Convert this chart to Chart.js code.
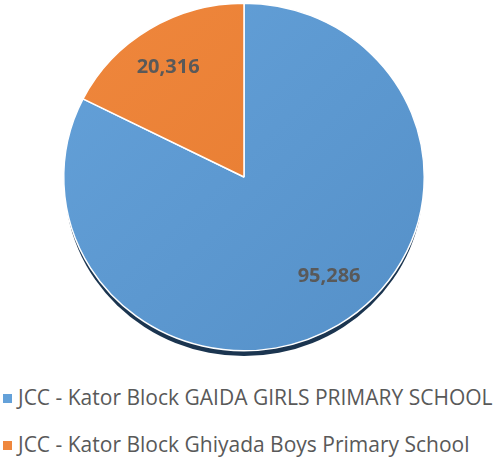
<!DOCTYPE html>
<html>
<head>
<meta charset="utf-8">
<script src="https://cdn.jsdelivr.net/npm/chart.js@4.4.1/dist/chart.umd.min.js"></script>
<style>
  html, body { margin: 0; padding: 0; background: #fff; }
  #wrap { position: relative; width: 498px; height: 459px; overflow: hidden; }
  #pie { position: absolute; left: 0; top: -6px; }
  .leg { position: absolute; left: 0; font-family: 'Open Sans', sans-serif; font-size: 21px; color: #595959; white-space: nowrap; }
  .leg .box { position: absolute; left: 3px; width: 9px; height: 9px; }
  .leg .txt { position: absolute; left: 18px; line-height: 26px; }
</style>
</head>
<body>
<div id="wrap">
  <canvas id="pie" width="498" height="372"></canvas>
  <div id="legend"></div>
</div>
<script>
// ——— DATA ———
const schools = [
    'JCC - Kator Block GAIDA GIRLS PRIMARY SCHOOL',
    'JCC - Kator Block Ghiyada Boys Primary School'
];
const totals = [95286, 20316];
const colorsLeft = ['#64a1d9', '#ef873d'];
const colorsRight = ['#5590c8', '#e5792d'];

// label placement along each slice (radius fraction, angle shift in degrees)
const labelRadius = [0.74, 0.76];
const labelShift = [-8, -2];

// the pie is drawn slightly squashed vertically
const squash = 0.964;

const ctx = document.getElementById('pie').getContext('2d');

function sliceGradient(chart, i) {
    const area = chart.chartArea;
    if (!area) return colorsLeft[i];
    const g = ctx.createLinearGradient(area.left, area.top, area.right, area.bottom);
    g.addColorStop(0, colorsLeft[i]);
    g.addColorStop(1, colorsRight[i]);
    return g;
}

// squash + dark rim under the pie
const rimShadow = {
    id: 'rimShadow',
    beforeDatasetsDraw(chart) {
        const arc = chart.getDatasetMeta(0).data[0];
        if (!arc) return;
        const c = chart.ctx;
        c.save();
        c.translate(0, arc.y);
        c.scale(1, squash);
        c.translate(0, -arc.y);
        c.save();
        c.filter = 'blur(0.6px)';
        c.fillStyle = '#1b3550';
        c.beginPath();
        c.arc(arc.x, arc.y + 6.5, arc.outerRadius - 1, 0, Math.PI * 2);
        c.fill();
        c.restore();
    },
    afterDatasetsDraw(chart) {
        chart.ctx.restore();
    }
};

// value labels inside the slices
const valueLabels = {
    id: 'valueLabels',
    afterDatasetsDraw(chart) {
        const c = chart.ctx;
        c.save();
        c.font = 'bold 20px "Open Sans"';
        c.fillStyle = '#595959';
        c.textAlign = 'center';
        c.textBaseline = 'middle';
        chart.getDatasetMeta(0).data.forEach((arc, i) => {
            const mid = (arc.startAngle + arc.endAngle) / 2 + labelShift[i] * Math.PI / 180;
            const r = arc.outerRadius * labelRadius[i];
            c.fillText(totals[i].toLocaleString('en-US'), arc.x + Math.cos(mid) * r, arc.y + Math.sin(mid) * r * squash);
        });
        c.restore();
    }
};

new Chart(ctx, {
    type: 'pie',
    data: {
        labels: schools,
        datasets: [{
            data: totals,
            backgroundColor: c => sliceGradient(c.chart, c.dataIndex),
            borderColor: '#ffffff',
            borderWidth: 1.5
        }]
    },
    options: {
        responsive: false,
        animation: false,
        layout: { padding: { left: 63, right: 73, top: 2, bottom: 8 } },
        plugins: {
            legend: { display: false },
            tooltip: { enabled: false }
        }
    },
    plugins: [rimShadow, valueLabels]
});

// ——— LEGEND ———
const legendTops = [384, 431];
const legend = document.getElementById('legend');
schools.forEach((name, i) => {
    legend.innerHTML += `
      <div class="leg" style="top:${legendTops[i]}px">
        <div class="box" style="top:10px;background:${colorsLeft[i]}"></div>
        <div class="txt">${name}</div>
      </div>`;
});
</script>
</body>
</html>
